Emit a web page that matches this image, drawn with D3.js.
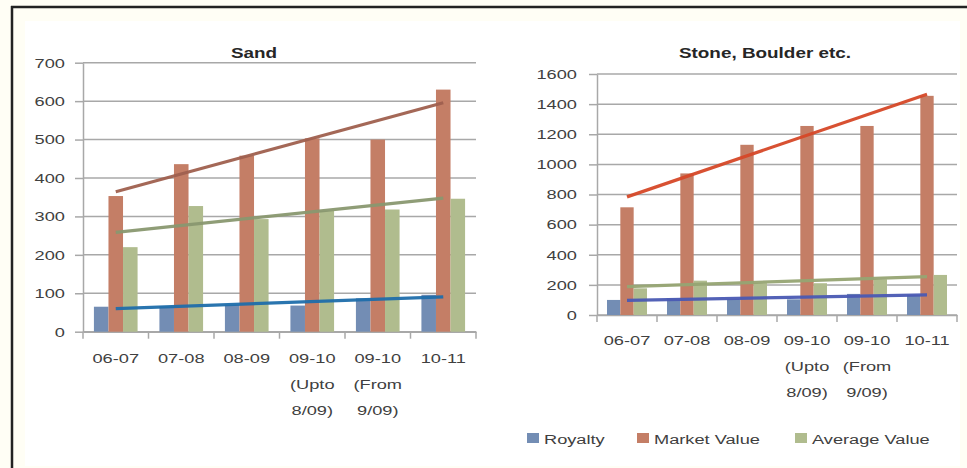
<!DOCTYPE html>
<html><head><meta charset="utf-8">
<script src="https://cdn.jsdelivr.net/npm/d3@7"></script>
<style>html,body{margin:0;padding:0;background:#fffef5;}svg{display:block;}</style>
</head><body>
<div id="chart"></div>
<script>
// ---- data ----
const categoryLines = [["06-07"],["07-08"],["08-09"],["09-10","(Upto","8/09)"],["09-10","(From","9/09)"],["10-11"]];
const seriesNames = ["Royalty","Market Value","Average Value"];
const sandRoyalty = [65,66,70,68,87,96];
const sandMarket = [353,436,458,503,500,630];
const sandAverage = [220,327,293,315,318,346];
const stoneRoyalty = [100,111,104,104,140,133];
const stoneMarket = [715,940,1130,1255,1255,1455];
const stoneAverage = [177,228,211,211,237,266];
const sandTicks = [0,100,200,300,400,500,600,700];
const stoneTicks = [0,200,400,600,800,1000,1200,1400,1600];

// ---- style ----
const W = 967, H = 468, SX = 1.35;
const FONT = "'Liberation Sans', Arial, sans-serif";
const barColors = ["#738db4","#c47e66","#b0bc8e"];
const gridColor = "#a8a8a8";
const textColor = "#404040";

const svg = d3.select("#chart").append("svg").attr("width", W).attr("height", H);
svg.append("rect").attr("width", W).attr("height", H).attr("fill", "#fffef5");
svg.append("rect").attr("x", 25).attr("y", 21).attr("width", 935).attr("height", 445).attr("fill", "#ffffff");
svg.append("line").attr("x1", 11).attr("x2", W).attr("y1", 7).attr("y2", 7).attr("stroke", "#222").attr("stroke-width", 2.5);
svg.append("line").attr("x1", 12).attr("x2", 12).attr("y1", 6).attr("y2", H).attr("stroke", "#222").attr("stroke-width", 2.5);

function stext(g, x, y, s, anchor, size, weight) {
  return g.append("text")
    .attr("transform", `translate(${x},${y}) scale(${SX},1)`)
    .attr("text-anchor", anchor)
    .attr("font-family", FONT).attr("font-size", size)
    .attr("font-weight", weight || "normal")
    .attr("fill", textColor).text(s);
}

function linreg(vals) {
  const n = vals.length, xs = d3.range(n);
  const mx = d3.mean(xs), my = d3.mean(vals);
  const sxy = d3.sum(xs, (x, i) => (x - mx) * (vals[i] - my));
  const sxx = d3.sum(xs, x => (x - mx) * (x - mx));
  const b = sxy / sxx, a = my - b * mx;
  return [a, a + b * (n - 1)];
}

function drawChart(cfg) {
  const g = svg.append("g");
  const x = d3.scaleBand().domain(d3.range(categoryLines.length)).range([cfg.left, cfg.right]);
  const y = d3.scaleLinear().domain([0, cfg.max]).range([cfg.y0, cfg.yTop]);

  // gridlines
  g.append("g").selectAll("line").data(cfg.ticks).join("line")
    .attr("x1", cfg.left).attr("x2", cfg.right)
    .attr("y1", d => y(d)).attr("y2", d => y(d))
    .attr("stroke", gridColor).attr("stroke-width", 1.5);

  // y axis
  const ya = g.append("g").attr("transform", `translate(${cfg.left},0)`)
    .call(d3.axisLeft(y).tickValues(cfg.ticks).tickSize(8).tickSizeOuter(0).tickFormat(d3.format("d")));
  ya.select(".domain").attr("stroke", gridColor).attr("stroke-width", 1.5);
  ya.selectAll(".tick line").attr("stroke", gridColor).attr("stroke-width", 1.5);
  ya.selectAll(".tick text").attr("x", null)
    .attr("transform", `translate(${-cfg.labelGap},0) scale(${SX},1)`)
    .attr("font-family", FONT).attr("font-size", 13.5).attr("fill", textColor);

  // x axis
  const xa = g.append("g").attr("transform", `translate(0,${cfg.y0})`)
    .call(d3.axisBottom(x).tickSize(0).tickSizeOuter(0).tickFormat(""));
  xa.select(".domain").attr("stroke", gridColor).attr("stroke-width", 1.5);
  const bounds = d3.range(categoryLines.length).map(i => x(i)).concat([x(categoryLines.length - 1) + x.bandwidth()]);
  g.append("g").selectAll("line").data(bounds).join("line")
    .attr("x1", d => d).attr("x2", d => d)
    .attr("y1", cfg.y0).attr("y2", cfg.y0 + 7)
    .attr("stroke", gridColor).attr("stroke-width", 1.5);
  categoryLines.forEach((lines, i) => {
    lines.forEach((s, j) => {
      stext(g, x(i) + x.bandwidth() / 2, cfg.y0 + cfg.labelOffset + j * 26, s, "middle", 13.5);
    });
  });

  // bars
  const bw = x.bandwidth() / 4.5;
  const off = (x.bandwidth() - 3 * bw) / 2;
  cfg.series.forEach((vals, s) => {
    g.append("g").selectAll("rect").data(vals).join("rect")
      .attr("x", (d, i) => x(i) + off + s * bw)
      .attr("width", bw)
      .attr("y", d => y(d))
      .attr("height", d => y(0) - y(d))
      .attr("fill", barColors[s]);
  });

  // trendlines
  cfg.series.forEach((vals, s) => {
    const [v0, v1] = linreg(vals);
    g.append("line")
      .attr("x1", x(0) + x.bandwidth() / 2).attr("x2", x(vals.length - 1) + x.bandwidth() / 2)
      .attr("y1", y(v0)).attr("y2", y(v1))
      .attr("stroke", cfg.trendColors[s]).attr("stroke-width", 3.2)
      .attr("stroke-linecap", "butt").attr("opacity", 0.95);
  });

  // title
  stext(g, cfg.titleX, 58, cfg.title, "middle", 14, "bold").attr("fill", "#262626");
}

drawChart({
  left: 83, right: 476, y0: 331.7, yTop: 62.7, max: 700, ticks: sandTicks,
  series: [sandRoyalty, sandMarket, sandAverage],
  trendColors: ["#1f6eab", "#a0604f", "#8a9870"],
  labelGap: 18, labelOffset: 31, title: "Sand", titleX: 254
});
drawChart({
  left: 597, right: 957, y0: 315, yTop: 74, max: 1600, ticks: stoneTicks,
  series: [stoneRoyalty, stoneMarket, stoneAverage],
  trendColors: ["#4a5ab4", "#d64828", "#96a573"],
  labelGap: 20, labelOffset: 30, title: "Stone, Boulder etc.", titleX: 765
});

// legend
const legendX = [527, 637, 795];
const lg = svg.append("g");
seriesNames.forEach((name, i) => {
  lg.append("rect").attr("x", legendX[i]).attr("y", 433).attr("width", 12).attr("height", 10).attr("fill", barColors[i]);
  stext(lg, legendX[i] + 17, 443.5, name, "start", 13.5);
});
</script>
</body></html>
